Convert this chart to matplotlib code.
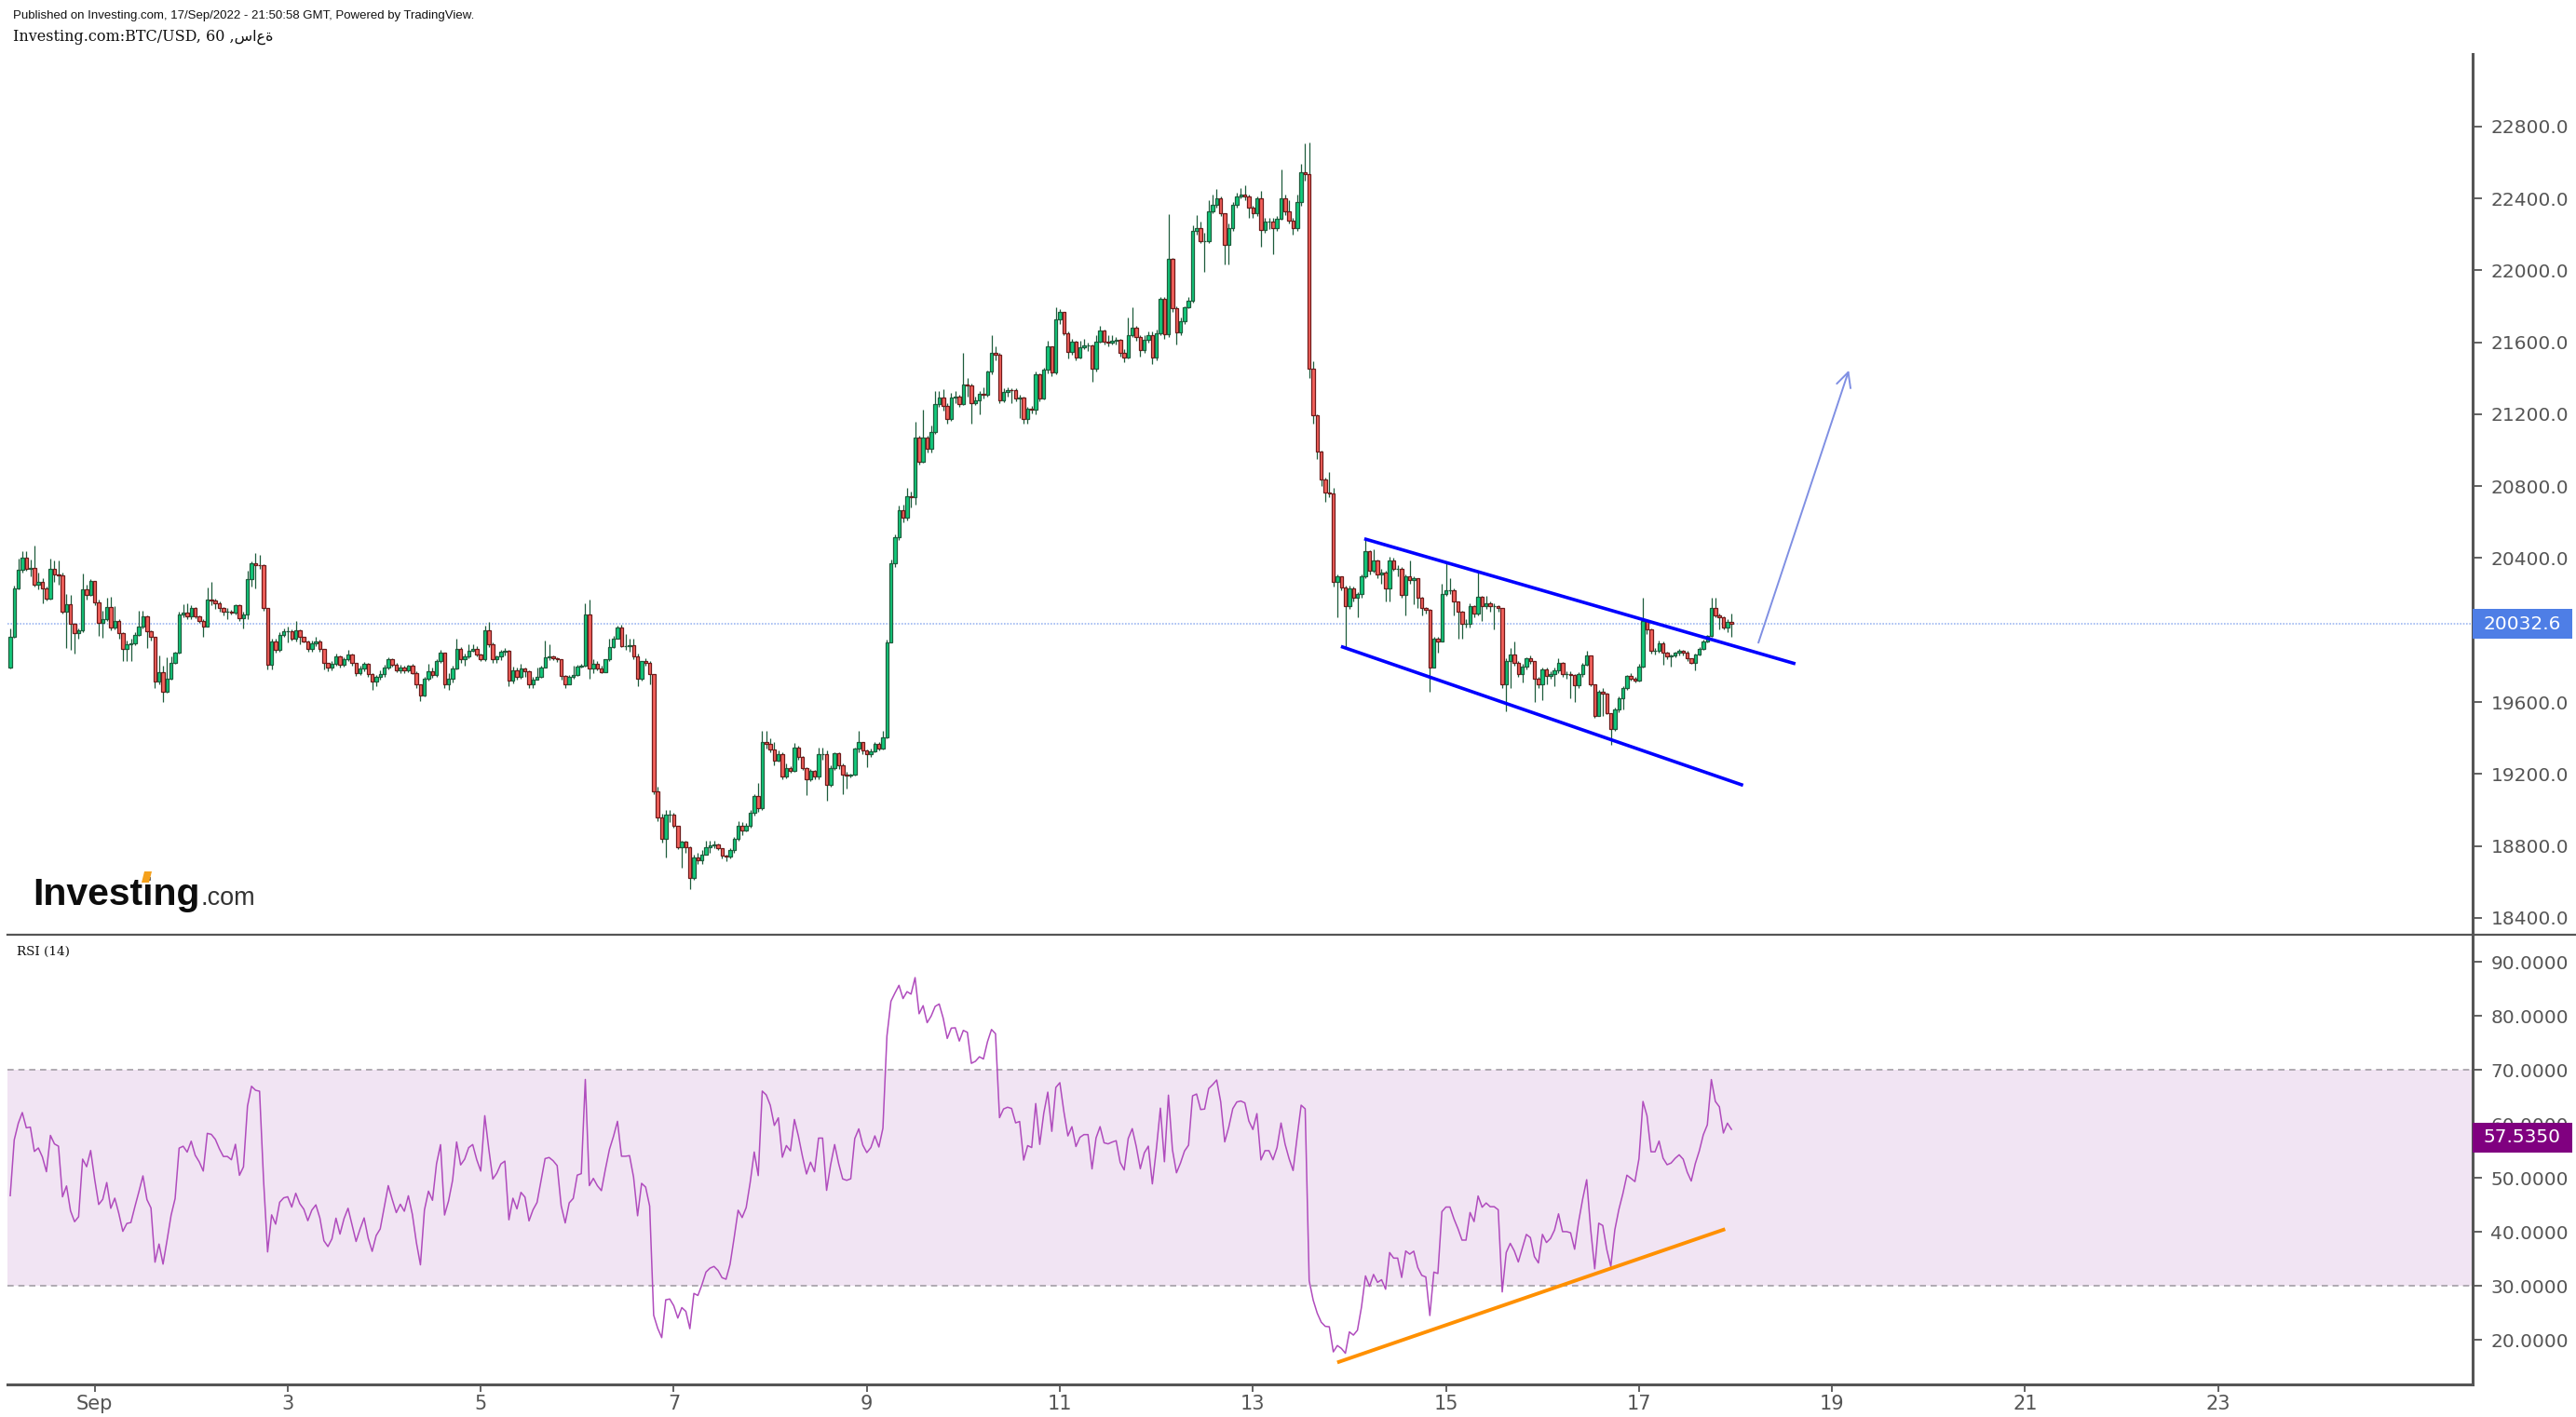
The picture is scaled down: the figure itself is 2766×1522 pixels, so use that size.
import numpy as np
import matplotlib.pyplot as plt
from matplotlib.lines import Line2D
from matplotlib.patches import Polygon, Rectangle

# BTC/USD hourly candles, Aug 31 03:00 -> Sep 18 00:00 (chart time)
first_open = 19793
closes = [
    19960, 20233, 20333, 20402, 20341, 20345, 20250, 20267, 20233, 20177, 20341, 20310, 20302,
    20103, 20146, 20034, 19982, 19999, 20229, 20198, 20271, 20155, 20040, 20060, 20126, 20012,
    20050, 19982, 19896, 19922, 19925, 19974, 20022, 20074, 19991, 19960, 19712, 19767, 19658,
    19732, 19815, 19874, 20086, 20095, 20074, 20121, 20074, 20052, 20022, 20167, 20164, 20150,
    20124, 20103, 20103, 20095, 20138, 20064, 20086, 20284, 20371, 20362, 20360, 20124, 19805,
    19939, 19891, 19974, 19991, 19995, 19953, 19999, 19960, 19939, 19896, 19925,
    19939, 19896, 19815, 19793, 19810, 19856, 19805, 19839, 19862, 19815, 19763, 19788,
    19810, 19753, 19712, 19741, 19753, 19793, 19836, 19805, 19775, 19790, 19775, 19801,
    19763, 19698, 19637, 19732, 19770, 19749, 19827, 19874, 19698, 19732, 19784, 19896,
    19836, 19853, 19887, 19896, 19862, 19836, 19999, 19919, 19836, 19853, 19879, 19887,
    19718, 19775, 19741, 19784, 19770, 19698, 19724, 19741, 19793, 19850, 19853, 19846,
    19836, 19746, 19701, 19741, 19750, 19798, 19801, 20086, 19784, 19810, 19784, 19767,
    19836, 19905,
    19953, 20012, 19913, 19913, 19915, 19856, 19732, 19827, 19815, 19753, 19103, 18956,
    18839, 18973, 18976, 18913, 18792, 18826, 18792, 18620, 18735, 18718, 18752, 18792,
    18804, 18809, 18787, 18748, 18740, 18775, 18839, 18913, 18887, 18913, 18982, 19077,
    19008, 19379, 19367, 19336, 19275, 19310, 19184, 19232, 19215, 19349, 19297, 19232,
    19172, 19215, 19184, 19310, 19310, 19137, 19232, 19315, 19249, 19194, 19189, 19194,
    19339, 19379, 19332, 19310, 19327, 19367, 19339, 19401, 19931, 20371, 20517,
    20669, 20623, 20746, 20738, 21071, 20937, 21071, 21006, 21102, 21255, 21294, 21244,
    21173, 21294, 21298, 21255, 21365, 21359, 21263, 21279, 21313, 21307, 21436, 21543,
    21532, 21275, 21326, 21336, 21332, 21288, 21294, 21173, 21231, 21225, 21422, 21288,
    21447, 21576, 21432, 21729, 21767, 21652, 21547, 21604, 21518, 21570, 21585, 21585,
    21451, 21604, 21666, 21604, 21600, 21608, 21614, 21543, 21518, 21639, 21681, 21627,
    21556, 21614, 21639, 21518,
    21648, 21843, 21643, 22062, 21790, 21654, 21717, 21795, 21833, 22218, 22235, 22161,
    22165, 22330, 22364, 22402, 22316, 22140, 22235, 22364, 22413, 22420, 22413, 22347,
    22316, 22402, 22223, 22269, 22269, 22235, 22287, 22402, 22330, 22278, 22235, 22378,
    22545, 22533, 21453,
    21192, 20991, 20839, 20767, 20760, 20266, 20298, 20237, 20135, 20233, 20179, 20200,
    20298, 20440, 20331, 20385, 20309, 20320, 20233, 20385, 20342, 20342, 20194, 20298,
    20276, 20287, 20179, 20124, 20113, 19793, 19950, 19939, 20200, 20222, 20222, 20157,
    20102, 20037, 20037, 20135, 20091, 20185, 20135, 20150, 20135, 20135, 20124, 19699,
    19830, 19862, 19819, 19754, 19797, 19841, 19826, 19732, 19699, 19780, 19743, 19754,
    19776, 19819, 19754, 19754, 19750, 19693, 19754, 19808, 19858, 19699, 19525, 19655,
    19645, 19536, 19449, 19557, 19623, 19677, 19743, 19732, 19721, 19797, 20048, 20004,
    19884, 19884, 19928, 19873, 19852, 19858, 19873, 19884, 19873, 19841, 19819, 19862,
    19895, 19939, 19967, 20124, 20080, 20069, 20015, 20045, 20032.6,
]
highs = [
    20010, 20245, 20397, 20440, 20440, 20390, 20469, 20320, 20290, 20240, 20397, 20385, 20385,
    20320, 20200, 20195, 20040, 20010, 20315, 20250, 20285, 20271, 20170, 20110, 20180, 20185,
    20135, 20060, 19990, 19940, 19950, 19990, 20110, 20110, 20080, 20000, 19960, 19860, 19800,
    19850, 19855, 19880, 20100, 20145, 20150, 20140, 20130, 20080, 20060, 20235, 20270, 20175,
    20160, 20130, 20125, 20115, 20145, 20145, 20100, 20330, 20380, 20427, 20420, 20365, 20124,
    19950, 19950, 19990, 20010, 20020, 20005, 20050, 20005, 19965, 19940, 19940,
    19960, 19945, 19896, 19820, 19830, 19870, 19860, 19850, 19890, 19870, 19820, 19800,
    19825, 19815, 19760, 19750, 19775, 19805, 19850, 19845, 19820, 19805, 19800, 19805,
    19810, 19770, 19700, 19740, 19810, 19790, 19840, 19890, 19875, 19760, 19800, 19950,
    19905, 19870, 19920, 19920, 19910, 19870, 20025, 20046, 19930, 19860, 19890, 19900,
    19890, 19795, 19790, 19810, 19790, 19775, 19740, 19790, 19800, 19940, 19920, 19860,
    19850, 19840, 19750, 19750, 19800, 19805, 19810, 20150, 20167, 19840, 19830, 19800,
    19840, 19950,
    19970, 20025, 20030, 19980, 19950, 19950, 19870, 19830, 19845, 19830, 19753, 19130,
    18980, 19000, 19000, 18985, 18913, 18830, 18830, 18800, 18750, 18760, 18775, 18830,
    18830, 18830, 18815, 18790, 18750, 18790, 18850, 18935, 18930, 18925, 19000, 19090,
    19150, 19442, 19440, 19400, 19380, 19330, 19320, 19260, 19245, 19370, 19355, 19300,
    19240, 19230, 19220, 19345, 19345, 19330, 19250, 19320, 19320, 19260, 19210, 19200,
    19345, 19442, 19380, 19335, 19340, 19375, 19380, 19440, 19945, 20390, 20530,
    20690, 20700, 20790, 20770, 21160, 21080, 21225, 21080, 21140, 21327, 21330, 21340,
    21260, 21320, 21330, 21310, 21543, 21400, 21370, 21300, 21330, 21350, 21445, 21639,
    21580, 21540, 21345, 21350, 21345, 21345, 21310, 21300, 21240, 21245, 21440, 21430,
    21460, 21610, 21580, 21796, 21785, 21770, 21660, 21620, 21610, 21610, 21620, 21600,
    21590, 21640, 21690, 21670, 21640, 21640, 21630, 21620, 21560, 21740, 21796, 21690,
    21640, 21640, 21660, 21660,
    21670, 21850, 21850, 22313, 22070, 21800, 21740, 21800, 21850, 22250, 22305, 22270,
    22210, 22390, 22420, 22450, 22410, 22320, 22260, 22380, 22430, 22460, 22475, 22420,
    22360, 22410, 22440, 22290, 22290, 22290, 22300, 22563, 22420, 22390, 22290, 22420,
    22590, 22706, 22713,
    21497, 21200, 21000, 20850, 20880, 20789, 20310, 20300, 20245, 20245, 20240, 20210,
    20310, 20505, 20445, 20451, 20390, 20340, 20330, 20407, 20400, 20360, 20350, 20310,
    20386, 20300, 20290, 20185, 20130, 20120, 19965, 19960, 20255, 20375, 20290, 20230,
    20160, 20110, 20060, 20150, 20140, 20320, 20190, 20190, 20160, 20150, 20140, 20124,
    19845, 19900, 19939, 19830, 19810, 19850, 19860, 19830, 19740, 19790, 19790, 19770,
    19790, 19841, 19825, 19770, 19770, 19755, 19765, 19815, 19884, 19860, 19700, 19670,
    19680, 19650, 19540, 19570, 19630, 19690, 19750, 19760, 19740, 19810, 20178, 20054,
    20010, 19900, 19940, 19935, 19880, 19865, 19880, 19895, 19890, 19884, 19845, 19870,
    19905, 19945, 19975, 20178, 20178, 20090, 20075, 20060, 20091,
]
lows = [
    19785, 19955, 20225, 20320, 20330, 20300, 20240, 20225, 20150, 20165, 20170, 20270, 20250,
    20090, 19900, 19890, 19870, 19950, 19990, 20170, 20190, 20140, 19970, 19955, 20050, 20000,
    20005, 19950, 19830, 19830, 19830, 19915, 19970, 20010, 19900, 19940, 19680, 19700, 19600,
    19650, 19725, 19810, 19870, 20070, 20060, 20060, 20065, 20040, 19965, 20020, 20140, 20120,
    20100, 20080, 20060, 20085, 20085, 20050, 20010, 20060, 20240, 20230, 20340, 20110, 19780,
    19780, 19875, 19880, 19960, 19930, 19940, 19935, 19920, 19930, 19880, 19880,
    19910, 19880, 19780, 19770, 19775, 19800, 19790, 19795, 19830, 19800, 19745, 19750,
    19770, 19740, 19670, 19690, 19725, 19740, 19780, 19795, 19765, 19760, 19760, 19765,
    19755, 19680, 19605, 19630, 19720, 19735, 19740, 19815, 19680, 19670, 19710, 19780,
    19820, 19800, 19845, 19880, 19855, 19830, 19830, 19905, 19820, 19820, 19835, 19860,
    19690, 19705, 19725, 19730, 19740, 19680, 19680, 19730, 19735, 19790, 19835, 19835,
    19825, 19725, 19680, 19700, 19730, 19745, 19790, 19795, 19730, 19760, 19775, 19760,
    19765, 19830,
    19900, 19950, 19905, 19890, 19880, 19840, 19690, 19720, 19800, 19700, 19090, 18940,
    18820, 18735, 18930, 18900, 18780, 18680, 18760, 18560, 18610, 18700, 18700, 18750,
    18760, 18785, 18775, 18730, 18715, 18730, 18760, 18830, 18860, 18880, 18900, 18970,
    18990, 19000, 19340, 19320, 19250, 19270, 19170, 19175, 19205, 19210, 19280, 19220,
    19080, 19160, 19170, 19170, 19280, 19050, 19130, 19220, 19230, 19090, 19120, 19180,
    19190, 19320, 19310, 19240, 19295, 19320, 19330, 19335, 19400, 19930, 20350,
    20500, 20600, 20610, 20680, 20700, 20920, 20930, 20990, 20990, 21090, 21240, 21220,
    21150, 21165, 21260, 21240, 21250, 21300, 21150, 21250, 21200, 21290, 21300, 21420,
    21500, 21260, 21265, 21300, 21260, 21270, 21180, 21150, 21150, 21205, 21200, 21270,
    21280, 21430, 21410, 21420, 21700, 21640, 21510, 21530, 21500, 21510, 21560, 21550,
    21380, 21440, 21600, 21590, 21580, 21590, 21590, 21520, 21490, 21510, 21630, 21610,
    21520, 21540, 21600, 21480,
    21500, 21640, 21620, 21630, 21770, 21590, 21640, 21700, 21790, 21820, 22200, 22150,
    21990, 22150, 22320, 22350, 22300, 22035, 22035, 22220, 22350, 22400, 22390, 22290,
    22290, 22300, 22130, 22210, 22230, 22090, 22220, 22280, 22310, 22260, 22200, 22220,
    22360, 22500, 21400,
    21150, 20950, 20800, 20712, 20740, 20240, 20070, 20220, 19906, 20120, 20160, 20070,
    20180, 20290, 20310, 20320, 20290, 20260, 20157, 20157, 20330, 20300, 20180, 20081,
    20260, 20146, 20124, 20081, 20090, 19656, 19863, 19874, 19935, 20190, 20200, 20081,
    19950, 19950, 20015, 20015, 20070, 20080, 20048, 20120, 20102, 20004, 20100, 19680,
    19547, 19677, 19800, 19740, 19710, 19780, 19810, 19601, 19680, 19612, 19699, 19730,
    19688, 19760, 19740, 19730, 19623, 19601, 19680, 19740, 19800, 19688, 19514, 19558,
    19525, 19531, 19361, 19440, 19545, 19558, 19670, 19720, 19710, 19715, 19790, 19980,
    19870, 19863, 19875, 19808, 19840, 19797, 19850, 19860, 19860, 19830, 19810, 19775,
    19860, 19890, 19930, 19960, 20070, 20004, 20004, 19990, 19961,
]

# RSI(14) state before the first visible candle (estimated)
rsi_seed_gain = 31
rsi_seed_loss = 50
rsi_last_label = '57.5350'

# x axis: first candle is 21 hours before Sep 1 00:00
hours_before_sep1 = 21
tick_days = [1, 3, 5, 7, 9, 11, 13, 15, 17, 19, 21, 23]
tick_labels = ['Sep', '3', '5', '7', '9', '11', '13', '15', '17', '19', '21', '23']
price_ticks = list(range(18400, 22801, 400))
rsi_ticks = [20, 30, 40, 50, 60, 70, 80, 90]

# drawings (candle index, value)
channel_upper = [(337.1, 20505), (443.5, 19815)]
channel_lower = [(331.3, 19906), (430.5, 19140)]
target_arrow = [(434.5, 19916), (457.4, 21458)]
rsi_trend = [(330.4, 15.9), (426.0, 40.4)]

W, H = 2766, 1522
closes = np.array(closes, dtype=float)
highs = np.array(highs, dtype=float)
lows = np.array(lows, dtype=float)
opens = np.r_[first_open, closes[:-1]]
highs = np.maximum(highs, np.maximum(opens, closes))
lows = np.minimum(lows, np.minimum(opens, closes))
x = np.arange(len(closes))

# Wilder RSI
rsi = []
g, l = rsi_seed_gain, rsi_seed_loss
for c in np.diff(np.r_[first_open, closes]):
    g = (g * 13 + max(c, 0)) / 14
    l = (l * 13 + max(-c, 0)) / 14
    rsi.append(100 - 100 / (1 + g / l))
rsi = np.array(rsi)

fig = plt.figure(figsize=(W / 100, H / 100), dpi=100)
fig.patch.set_facecolor('white')
axp = fig.add_axes([8 / W, 1 - 1004 / H, (2655 - 8) / W, (1004 - 58) / H])
axr = fig.add_axes([8 / W, 1 - 1487 / H, (2655 - 8) / W, (1487 - 1004) / H], sharex=axp)

gray = '#555555'
lab = 14.5
up = closes >= opens
body_c = np.where(up, '#12c97c', '#f4625c')
edge_c = np.where(up, '#1e5c3c', '#6e1a1a')
axp.vlines(x, lows, highs, color='#1e5c3c', lw=0.9, zorder=2)
axp.bar(x, np.abs(closes - opens), bottom=np.minimum(opens, closes), width=0.8,
        color=body_c, edgecolor=edge_c, linewidth=0.9, zorder=3)

axp.axhline(closes[-1], color='#4e7ee6', lw=1.2, ls=(0, (1, 1)), alpha=0.55, zorder=1)

(x0, y0), (x1, y1) = channel_upper
axp.plot([x0, x1], [y0, y1], color='#0000ff', lw=2.6, zorder=4)
(x0, y0), (x1, y1) = channel_lower
axp.plot([x0, x1], [y0, y1], color='#0000ff', lw=2.6, zorder=4)
(x0, y0), (x1, y1) = target_arrow
axp.annotate('', xy=(x1, y1), xytext=(x0, y0),
             arrowprops=dict(arrowstyle='->', color='#7f8fe3', lw=1.4, mutation_scale=28))

axp.set_xlim(-0.69, 612.3)
axp.set_ylim(18306, 23203)
axp.yaxis.tick_right()
axp.set_yticks(price_ticks, [f'{v:.1f}' for v in price_ticks])
axp.tick_params(axis='y', direction='out', length=7, width=1.3, color=gray,
                labelcolor=gray, labelsize=lab, pad=7)
axp.tick_params(axis='x', bottom=False, labelbottom=False)
for s in ['top', 'left', 'bottom']:
    axp.spines[s].set_visible(False)
axp.spines['right'].set_color(gray)
axp.spines['right'].set_linewidth(2.2)


def value_tag(ax, value, text, color, px_per_unit):
    # coloured tag on the price scale, covering the tick label beneath it
    half = 16 / px_per_unit
    right = (2762 - 8) / (2655 - 8)
    ax.add_patch(Rectangle((1.0, value - half), right - 1.0, 2 * half,
                           transform=ax.get_yaxis_transform(), fc=color, ec='none',
                           clip_on=False, zorder=10))
    ax.text((2666 - 8) / (2655 - 8), value, text, transform=ax.get_yaxis_transform(),
            ha='left', va='center', fontsize=lab, color='white', zorder=11, clip_on=False)


value_tag(axp, closes[-1], f'{closes[-1]:.1f}', '#4e7ee6', 946 / (23203 - 18306))

# RSI pane
axr.axhspan(30, 70, color='#f1e4f3', lw=0, zorder=0)
axr.axhline(70, color='#a39ea6', lw=1.2, ls=(0, (4, 3)), zorder=1)
axr.axhline(30, color='#a39ea6', lw=1.2, ls=(0, (4, 3)), zorder=1)
axr.plot(x, rsi, color='#b04cbd', lw=1.1, zorder=3)
(x0, y0), (x1, y1) = rsi_trend
axr.plot([x0, x1], [y0, y1], color='#ff9000', lw=2.8, zorder=4)
axr.set_ylim(11.72, 95.09)
axr.yaxis.tick_right()
axr.set_yticks(rsi_ticks, [f'{v:.4f}' for v in rsi_ticks])
axr.tick_params(axis='y', direction='out', length=7, width=1.3, color=gray,
                labelcolor=gray, labelsize=lab, pad=7)
axr.set_xticks([hours_before_sep1 + (d - 1) * 24 for d in tick_days], tick_labels)
axr.tick_params(axis='x', direction='out', length=6, width=1.3, color=gray,
                labelcolor=gray, labelsize=15, pad=2)
for s in ['top', 'left']:
    axr.spines[s].set_visible(False)
for s in ['right', 'bottom']:
    axr.spines[s].set_color(gray)
    axr.spines[s].set_linewidth(2.2)
value_tag(axr, float(rsi_last_label), rsi_last_label, '#800080', 483 / (95.09 - 11.72))

# pane separator across the full width
fig.add_artist(Line2D([8 / W, 1], [1 - 1004 / H, 1 - 1004 / H], color=gray, lw=1.6))

# header and labels
fig.text(14 / W, 1 - 17 / H,
         'Published on Investing.com, 17/Sep/2022 - 21:50:58 GMT, Powered by TradingView.',
         fontsize=9.5, family='Liberation Sans', color='#111111', va='center')
fig.text(14 / W, 1 - 40 / H, 'Investing.com:BTC/USD, 60 ,ساعة',
         fontsize=11.5, family=['DejaVu Serif', 'DejaVu Sans'], color='#111111', va='center')
fig.text(18 / W, 1 - 1022 / H, 'RSI (14)', fontsize=9.7, family='DejaVu Serif',
         color='#111111', va='center')

# Investing.com logo
fig.text(35 / W, 1 - 972 / H, 'Investing', fontsize=29.5, fontweight='heavy',
         family='Liberation Sans', color='#0d0d0d', va='baseline')
fig.text(215 / W, 1 - 972 / H, '.com', fontsize=19.5, family='Liberation Sans',
         color='#333333', va='baseline')
dot = [(152, 948), (160, 948), (163, 936), (155, 936)]
fig.add_artist(Polygon([(px / W, 1 - py / H) for px, py in dot], closed=True,
                       fc='#f5a11c', ec='none', transform=fig.transFigure, zorder=5))

fig.savefig('out.png', dpi=100, facecolor='white')
